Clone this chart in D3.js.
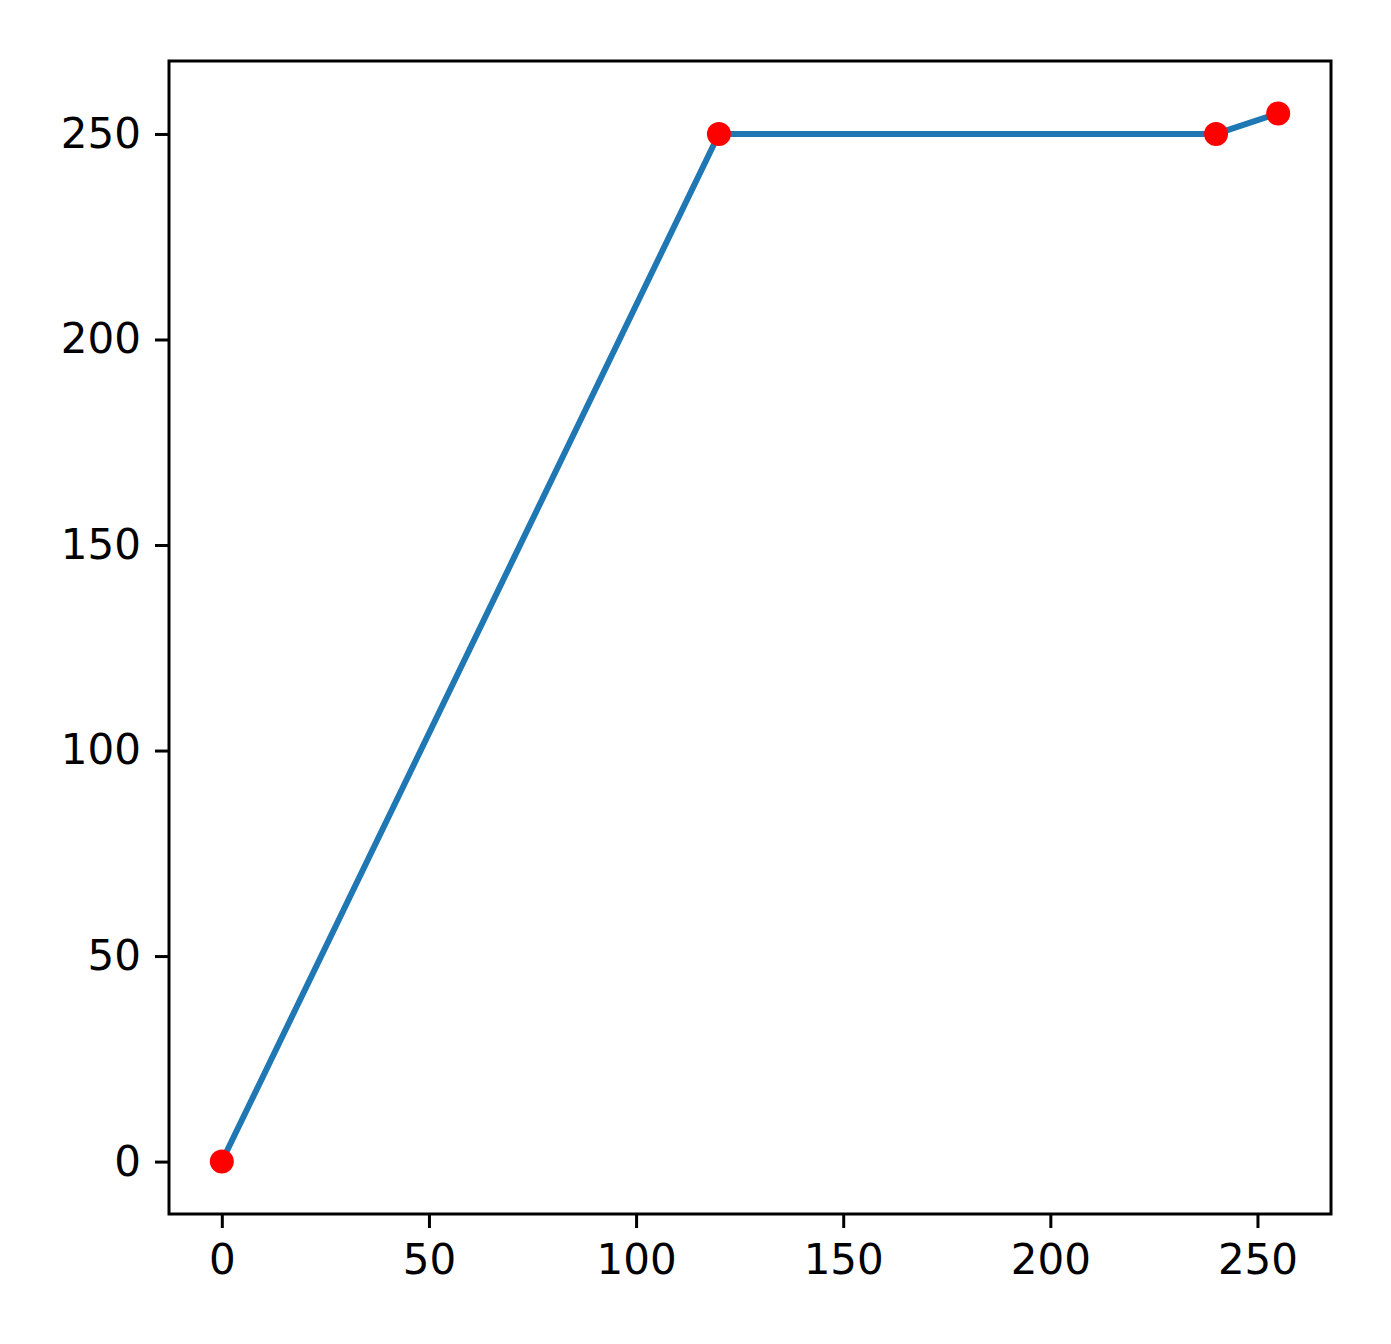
<!DOCTYPE html>
<html>
<head>
<meta charset="utf-8">
<script src="https://cdn.jsdelivr.net/npm/d3@7"></script>
<style>
  body { margin: 0; background: #fff; }
  text { font-family: "DejaVu Sans", sans-serif; }
</style>
</head>
<body>
<div id="chart"></div>
<script>
// dados
const xs = [0, 120, 240, 255];
const ys = [0, 250, 250, 255];
const xTicks = [0, 50, 100, 150, 200, 250];
const yTicks = [0, 50, 100, 150, 200, 250];

const width = 1391, height = 1344;
const plot = { left: 169, right: 1331, top: 61, bottom: 1214 };

const svg = d3.select("#chart").append("svg")
  .attr("width", width)
  .attr("height", height);

const x = d3.scaleLinear().domain([-12.75, 267.75]).range([plot.left, plot.right]);
const y = d3.scaleLinear().domain([-12.75, 267.75]).range([plot.bottom, plot.top]);

const pts = xs.map((v, i) => ({ x: v, y: ys[i] }));

// linha
svg.append("path")
  .datum(pts)
  .attr("fill", "none")
  .attr("stroke", "#1f77b4")
  .attr("stroke-width", 6)
  .attr("stroke-linecap", "square")
  .attr("d", d3.line().x(d => x(d.x)).y(d => y(d.y)));

// pontos
svg.selectAll(".pt")
  .data(pts)
  .enter().append("circle")
  .attr("class", "pt")
  .attr("cx", d => x(d.x))
  .attr("cy", d => y(d.y))
  .attr("r", 12)
  .attr("fill", "#ff0000");

// eixos
const xAxis = svg.append("g")
  .attr("transform", `translate(0,${plot.bottom})`)
  .call(d3.axisBottom(x).tickValues(xTicks).tickSize(14).tickPadding(16).tickSizeOuter(0));
const yAxis = svg.append("g")
  .attr("transform", `translate(${plot.left},0)`)
  .call(d3.axisLeft(y).tickValues(yTicks).tickSize(14).tickPadding(14).tickSizeOuter(0));

[xAxis, yAxis].forEach(g => {
  g.select(".domain").remove();
  g.selectAll(".tick line").attr("stroke", "#000").attr("stroke-width", 3);
  g.selectAll(".tick text")
    .attr("fill", "#000")
    .style("font-size", "42px")
    .style("font-family", "'DejaVu Sans', sans-serif");
});

// moldura
svg.append("rect")
  .attr("x", plot.left)
  .attr("y", plot.top)
  .attr("width", plot.right - plot.left)
  .attr("height", plot.bottom - plot.top)
  .attr("fill", "none")
  .attr("stroke", "#000")
  .attr("stroke-width", 3);
</script>
</body>
</html>
